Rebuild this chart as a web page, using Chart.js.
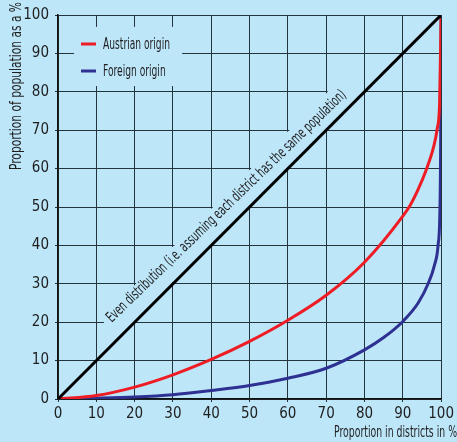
<!DOCTYPE html>
<html>
<head>
<meta charset="utf-8">
<script src="https://cdn.jsdelivr.net/npm/chart.js@4.4.1/dist/chart.umd.min.js"></script>
<style>
  html, body { margin: 0; padding: 0; background: #bee6f9; }
  #wrap { width: 457px; height: 442px; position: relative; }
</style>
</head>
<body>
<div id="wrap"><canvas id="lorenzChart"></canvas></div>
<script>
// Lorenz curves: share of districts (x, %) against share of population (y, %)
const tickValues = [0, 10, 20, 30, 40, 50, 60, 70, 80, 90, 100];

const evenX = [0, 100];
const evenY = [0, 100];

const austrianX = [0, 10, 20, 30, 40, 50, 60, 70, 80, 90, 92, 94, 96, 98, 99, 99.6, 100];
const austrianY = [0, 0.9, 3.1, 6.3, 10.3, 15, 20.5, 27, 35.6, 47.6, 50.6, 54.6, 59.4, 65.5, 70.5, 77, 100];

const foreignX = [0, 10, 20, 30, 40, 50, 60, 70, 80, 85, 90, 94, 96.6, 98.3, 99.2, 99.7, 99.9, 100];
const foreignY = [0, 0.2, 0.5, 1.1, 2.2, 3.5, 5.4, 8, 12.8, 16, 20.2, 25, 30, 35, 40, 50, 70, 100];

const evenLabel = 'Even distribution (i.e. assuming each district has the same population)';
const xTitle = 'Proportion in districts in %';
const yTitle = 'Proportion of population as a %';

const BG = '#bee6f9';
const INK = '#1e1e1e';
const FONT = '"Liberation Sans Narrow", "DejaVu Sans Condensed", "Roboto Condensed", sans-serif';

function toPoints(xs, ys) {
    return xs.map((x, i) => ({ x: x, y: ys[i] }));
}

// draw text squeezed horizontally (the labels use a condensed face)
function narrowText(ctx, text, x, y, squeeze) {
    ctx.save();
    ctx.translate(x, y);
    ctx.scale(squeeze, 1);
    ctx.fillText(text, 0, 0);
    ctx.restore();
}

// knock grid segments out behind the legend and the diagonal caption
const gridCuts = {
    id: 'gridCuts',
    beforeDatasetsDraw(chart) {
        const ctx = chart.ctx;
        const sx = chart.scales.x, sy = chart.scales.y;
        ctx.save();
        ctx.strokeStyle = BG;
        ctx.lineWidth = 3;
        const seg = (x1, y1, x2, y2) => {
            let ax = sx.getPixelForValue(x1), ay = sy.getPixelForValue(y1);
            let bx = sx.getPixelForValue(x2), by = sy.getPixelForValue(y2);
            if (ax === bx) { ay -= 1.5; by += 1.5; } else { ax += 1.5; bx -= 1.5; }
            ctx.beginPath();
            ctx.moveTo(ax, ay);
            ctx.lineTo(bx, by);
            ctx.stroke();
        };
        for (let j = 20; j <= 70; j += 10) {
            seg(j, j, j, j + 10);
            seg(j, j + 10, j + 10, j + 10);
        }
        seg(11.6, 20, 20, 20);

        // legend box
        const l = sx.getPixelForValue(4.2), r = sx.getPixelForValue(32.4);
        const t = sy.getPixelForValue(96.9), b = sy.getPixelForValue(81.5);
        ctx.fillStyle = BG;
        ctx.fillRect(l, t, r - l, b - t);
        ctx.restore();
    },
    afterDatasetsDraw(chart) {
        const ctx = chart.ctx;
        const area = chart.chartArea;
        ctx.save();
        ctx.fillStyle = INK;

        // legend
        const items = chart.data.datasets.filter(d => d.legendRank).sort((a, b) => a.legendRank - b.legendRank);
        ctx.font = '15px ' + FONT;
        ctx.textBaseline = 'middle';
        ctx.textAlign = 'left';
        const squeeze = 67 / ctx.measureText(items[0].label).width;
        items.forEach((d, i) => {
            const y = area.top + 29 + i * 27;
            ctx.strokeStyle = d.borderColor;
            ctx.lineWidth = 3;
            ctx.beginPath();
            ctx.moveTo(area.left + 23, y);
            ctx.lineTo(area.left + 38, y);
            ctx.stroke();
            narrowText(ctx, d.label, area.left + 45, y + 1, squeeze);
        });

        // caption along the even-distribution line
        const lx = chart.scales.x.getPixelForValue(14);
        const ly = chart.scales.y.getPixelForValue(19.8);
        ctx.translate(lx, ly);
        ctx.rotate(-44 * Math.PI / 180);
        ctx.font = '15px ' + FONT;
        ctx.textBaseline = 'alphabetic';
        const w = ctx.measureText(evenLabel).width;
        narrowText(ctx, evenLabel, 0, 0, 327 / w);
        ctx.restore();
    },
    afterDraw(chart) {
        const ctx = chart.ctx;
        ctx.save();
        ctx.fillStyle = INK;
        ctx.textBaseline = 'alphabetic';

        // x title, flush right
        ctx.font = '15px ' + FONT;
        ctx.textAlign = 'right';
        const xw = ctx.measureText(xTitle).width;
        narrowText(ctx, xTitle, chart.width, 437, 123 / xw);

        // y title, rotated, running to the top edge
        ctx.font = '16px ' + FONT;
        const yw = ctx.measureText(yTitle).width;
        ctx.translate(21, 2);
        ctx.rotate(-Math.PI / 2);
        narrowText(ctx, yTitle, 0, 0, 168 / yw);
        ctx.restore();
    }
};

const axisTicks = {
    font: { family: FONT, size: 15 },
    color: INK,
    maxRotation: 0,
    autoSkip: false
};

new Chart(document.getElementById('lorenzChart'), {
    type: 'scatter',
    data: {
        datasets: [
            {
                label: 'Even distribution',
                data: toPoints(evenX, evenY),
                borderColor: '#000000',
                borderWidth: 3,
                showLine: true,
                pointRadius: 0
            },
            {
                label: 'Austrian origin',
                data: toPoints(austrianX, austrianY),
                borderColor: '#ee1d25',
                borderWidth: 3,
                showLine: true,
                pointRadius: 0,
                cubicInterpolationMode: 'monotone',
                legendRank: 1
            },
            {
                label: 'Foreign origin',
                data: toPoints(foreignX, foreignY),
                borderColor: '#2e3192',
                borderWidth: 3,
                showLine: true,
                pointRadius: 0,
                cubicInterpolationMode: 'monotone',
                legendRank: 2
            }
        ]
    },
    options: {
        responsive: true,
        maintainAspectRatio: false,
        animation: false,
        devicePixelRatio: 1,
        layout: { padding: { top: 15, right: 14, left: 0, bottom: 0 } },
        plugins: {
            legend: { display: false },
            tooltip: { enabled: false }
        },
        scales: {
            x: {
                type: 'linear',
                min: 0,
                max: 100,
                afterBuildTicks: s => { s.ticks = tickValues.map(v => ({ value: v })); },
                afterFit: s => { s.height = 43; },
                ticks: Object.assign({ padding: 3 }, axisTicks),
                grid: { color: '#24343c', lineWidth: 1, tickLength: 3 },
                border: { color: '#111111', width: 1.5 }
            },
            y: {
                type: 'linear',
                min: 0,
                max: 100,
                afterBuildTicks: s => { s.ticks = tickValues.map(v => ({ value: v })); },
                afterFit: s => { s.width = 58; },
                ticks: Object.assign({ padding: 6 }, axisTicks),
                grid: { color: '#24343c', lineWidth: 1, tickLength: 3 },
                border: { color: '#111111', width: 1.5 }
            }
        }
    },
    plugins: [gridCuts]
});
</script>
</body>
</html>
